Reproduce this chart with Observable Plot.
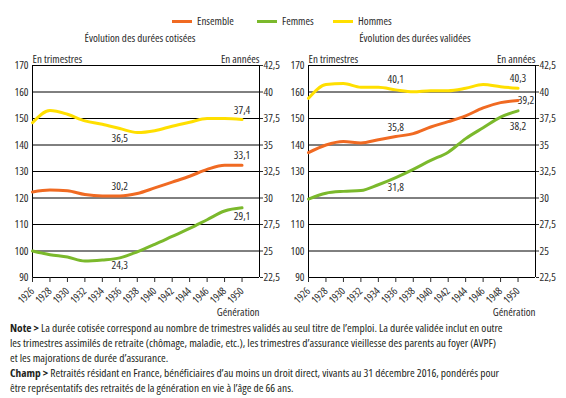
<!DOCTYPE html>
<html>
<head>
<meta charset="utf-8">
<script src="https://cdn.jsdelivr.net/npm/d3@7"></script>
<script src="https://cdn.jsdelivr.net/npm/@observablehq/plot@0.6"></script>
<style>
  body { margin: 0; background: #fff; }
  #root { position: relative; width: 566px; height: 398px; overflow: hidden;
    font-family: "Open Sans", sans-serif; font-stretch: 75%; color: #2a2a2a; }
  .abs { position: absolute; white-space: nowrap; }
  .legend { top: 14px; font-size: 11px; line-height: 14px; }
  .sw { position: absolute; top: 20px; height: 3px; width: 20px; }
  .title { top: 31px; font-size: 11px; line-height: 14px; transform: translateX(-50%); }
  .panel { position: absolute; top: 45px; }
  .note { left: 10px; top: 320px; font-size: 11.4px; font-stretch: 85%; line-height: 15px; white-space: nowrap; color: #231f20; }
  .note b { font-weight: bold; }
</style>
</head>
<body>
<div id="root"></div>
<script>
// ---- Data ----
const years = [1926, 1928, 1930, 1932, 1934, 1936, 1938, 1940, 1942, 1944, 1946, 1948, 1950];
const seriesNames = ["Ensemble", "Femmes", "Hommes"];
const seriesColors = ["#f06a22", "#7bb92c", "#ffdf00"];
// Durées cotisées (trimestres)
const cotEnsemble = [122.3, 123.0, 122.7, 121.3, 120.8, 120.8, 121.7, 123.8, 126.0, 128.2, 130.8, 132.4, 132.4];
const cotFemmes   = [100.0, 98.6, 97.7, 96.2, 96.6, 97.4, 99.7, 102.5, 105.5, 108.5, 111.8, 115.1, 116.3];
const cotHommes   = [148.4, 153.0, 151.6, 149.1, 147.8, 146.2, 144.7, 145.4, 147.1, 148.6, 150.0, 150.0, 149.6];
// Durées validées (trimestres)
const valEnsemble = [137.1, 140.0, 141.3, 140.8, 142.0, 143.2, 144.3, 146.8, 148.8, 151.0, 154.0, 156.0, 156.8];
const valFemmes   = [119.6, 121.8, 122.5, 122.8, 125.0, 127.7, 130.8, 134.2, 137.3, 142.4, 146.5, 150.5, 152.9];
const valHommes   = [157.6, 162.8, 163.2, 161.8, 161.8, 160.8, 160.1, 160.5, 160.5, 161.4, 162.8, 162.0, 161.4];
// Annotated values (years)
const cotLabels = [
  {serie: "Hommes", year: 1936, text: "36,5", dx: 0, dy: 10},
  {serie: "Hommes", year: 1950, text: "37,4", dx: 0, dy: -9},
  {serie: "Ensemble", year: 1950, text: "33,1", dx: 0, dy: -10},
  {serie: "Ensemble", year: 1936, text: "30,2", dx: 0, dy: -9},
  {serie: "Femmes", year: 1950, text: "29,1", dx: 0, dy: 9},
  {serie: "Femmes", year: 1936, text: "24,3", dx: 0, dy: 8}
];
const valLabels = [
  {serie: "Hommes", year: 1936, text: "40,1", dx: 0, dy: -10},
  {serie: "Hommes", year: 1950, text: "40,3", dx: 0, dy: -10},
  {serie: "Ensemble", year: 1950, text: "39,2", dx: 8, dy: 0},
  {serie: "Ensemble", year: 1936, text: "35,8", dx: 0, dy: -9},
  {serie: "Femmes", year: 1950, text: "38,2", dx: 0, dy: 16},
  {serie: "Femmes", year: 1936, text: "31,8", dx: 0, dy: 10}
];
const yTicks = [90, 100, 110, 120, 130, 140, 150, 160, 170];
const xDomain = [1926, 1952];
const panelTitles = ["Évolution des durées cotisées", "Évolution des durées validées"];

function table(e, f, h) {
  const rows = [];
  [e, f, h].forEach((vals, i) => years.forEach((y, j) => rows.push({year: y, serie: seriesNames[i], value: vals[j]})));
  return rows;
}

const FONT = '"Open Sans", sans-serif';
const TXT = "#2a2a2a";

function panel(rows, labels) {
  const lab = labels.map(l => ({...l, value: rows.find(r => r.serie === l.serie && r.year === l.year).value}));
  return Plot.plot({
    width: 290, height: 275,
    marginLeft: 32, marginRight: 31, marginTop: 20, marginBottom: 43,
    style: {fontFamily: FONT, fontStretch: "75%", fontSize: "10.5px", color: TXT, background: "transparent", overflow: "visible"},
    x: {domain: xDomain},
    y: {domain: [90, 170]},
    color: {domain: seriesNames, range: seriesColors},
    marks: [
      Plot.ruleY(yTicks, {stroke: "#000", strokeWidth: 1}),
      Plot.ruleX(xDomain, {stroke: "#000", strokeWidth: 1}),
      Plot.line(rows, {x: "year", y: "value", z: "serie", stroke: "serie", strokeWidth: 3, curve: "monotone-x"}),
      ...lab.map(l => Plot.text([l], {x: "year", y: "value", text: "text", dx: l.dx, dy: l.dy, fill: TXT, fontSize: 11})),
      Plot.axisY({ticks: yTicks, anchor: "left", tickSize: 0, tickPadding: 4, label: null, fill: TXT, fontSize: 11}),
      Plot.axisY({ticks: yTicks, anchor: "right", tickSize: 3, tickPadding: 1, label: null, fill: TXT, fontSize: 11,
        tickFormat: d => (d / 4).toLocaleString("fr-FR")}),
      Plot.axisX({ticks: years, anchor: "bottom", tickSize: 5, tickFormat: d => String(d), tickRotate: -45, label: null, fill: TXT}),
      Plot.text(["En trimestres"], {frameAnchor: "top-left", text: d => d, dy: -10, textAnchor: "start", fill: TXT, fontSize: 11}),
      Plot.text(["En années"], {frameAnchor: "top-right", text: d => d, dy: -10, textAnchor: "end", fill: TXT, fontSize: 11}),
      Plot.text(["Génération"], {frameAnchor: "bottom-right", text: d => d, dy: 38, textAnchor: "end", fill: TXT, fontSize: 11})
    ]
  });
}

const root = document.getElementById("root");

// Legend
const legendX = [172, 257, 333];
seriesNames.forEach((s, i) => {
  const sw = document.createElement("div");
  sw.className = "sw"; sw.style.left = legendX[i] + "px"; sw.style.background = seriesColors[i];
  root.appendChild(sw);
  const t = document.createElement("div");
  t.className = "abs legend"; t.style.left = (legendX[i] + 25) + "px"; t.textContent = s;
  root.appendChild(t);
});

// Titles
[140, 415].forEach((cx, i) => {
  const t = document.createElement("div");
  t.className = "abs title"; t.style.left = cx + "px"; t.textContent = panelTitles[i];
  root.appendChild(t);
});

// Panels
const p1 = document.createElement("div"); p1.className = "panel"; p1.style.left = "0px";
p1.appendChild(panel(table(cotEnsemble, cotFemmes, cotHommes), cotLabels));
root.appendChild(p1);
const p2 = document.createElement("div"); p2.className = "panel"; p2.style.left = "276px";
p2.appendChild(panel(table(valEnsemble, valFemmes, valHommes), valLabels));
root.appendChild(p2);

// Note
const note = document.createElement("div");
note.className = "abs note";
note.innerHTML = "<b>Note &gt;</b> La durée cotisée correspond au nombre de trimestres validés au seul titre de l’emploi. La durée validée inclut en outre<br>les trimestres assimilés de retraite (chômage, maladie, etc.), les trimestres d’assurance vieillesse des parents au foyer (AVPF)<br>et les majorations de durée d’assurance.<br><b>Champ &gt;</b> Retraités résidant en France, bénéficiaires d’au moins un droit direct, vivants au 31 décembre 2016, pondérés pour<br>être représentatifs des retraités de la génération en vie à l’âge de 66 ans.";
root.appendChild(note);
</script>
</body>
</html>
